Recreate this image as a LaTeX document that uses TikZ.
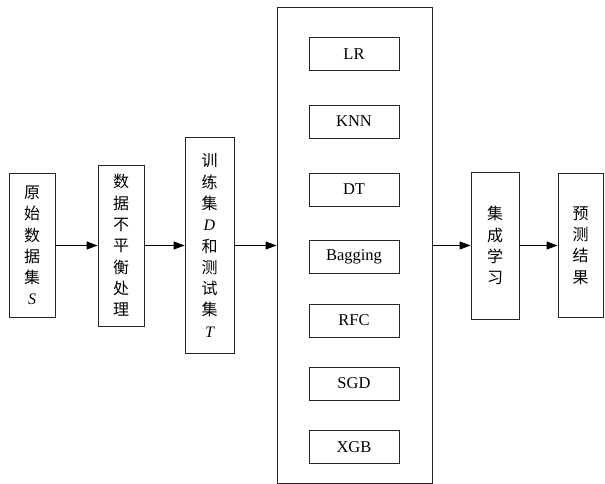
\documentclass[tikz,border=0pt]{standalone}
\usepackage{fontspec}
\setmainfont{Liberation Serif}
\newfontfamily\cjk{Noto Sans CJK SC}
\newcommand{\lit}[1]{{\rmfamily\itshape #1}}
\usetikzlibrary{arrows.meta}
\begin{document}
\begin{tikzpicture}[x=1pt,y=-1pt,
  box/.style={draw=black!85, line width=0.8pt, inner sep=0pt, align=center,
    font=\fontsize{16}{21.3}\selectfont\cjk},
  algo/.style={draw=black!85, line width=0.8pt, inner sep=0pt,
    minimum width=90pt, minimum height=33pt, font=\fontsize{16.5}{18}\selectfont},
  flow/.style={line width=0.8pt, -{Triangle[length=11pt,width=8pt]}}]
\useasboundingbox (0,0) rectangle (605,484);
\node[box, minimum width=46pt, minimum height=144pt] (b1) at (32,245.5)
  {原\\始\\数\\据\\集\\\lit{S}};
\node[box, minimum width=46pt, minimum height=161pt] (b2) at (121,245.5)
  {数\\据\\不\\平\\衡\\处\\理};
\node[box, minimum width=49pt, minimum height=216pt] (b3) at (209.5,245.5)
  {训\\练\\集\\\lit{D}\\和\\测\\试\\集\\\lit{T}};
\node[draw=black!85, line width=0.8pt, minimum width=155pt, minimum height=476pt, inner sep=0pt] (big) at (354.5,245.5) {};
\node[algo] (lr) at (354,54) {LR};
\node[algo] (knn) at (354,121.5) {KNN};
\node[algo] (dt) at (354,189.5) {DT};
\node[algo] (bag) at (354,256.5) {Bagging};
\node[algo] (rfc) at (354,320.5) {RFC};
\node[algo] (sgd) at (354,383.5) {SGD};
\node[algo] (xgb) at (354,447) {XGB};
\node[box, minimum width=48pt, minimum height=147pt] (ens) at (495,245.5)
  {集\\成\\学\\习};
\node[box, minimum width=45pt, minimum height=144pt] (pred) at (580.5,245.5)
  {预\\测\\结\\果};
\draw[flow] (b1) -- (b2);
\draw[flow] (b2) -- (b3);
\draw[flow] (b3) -- (big);
\draw[flow] (big) -- (ens);
\draw[flow] (ens) -- (pred);
\end{tikzpicture}
\end{document}
